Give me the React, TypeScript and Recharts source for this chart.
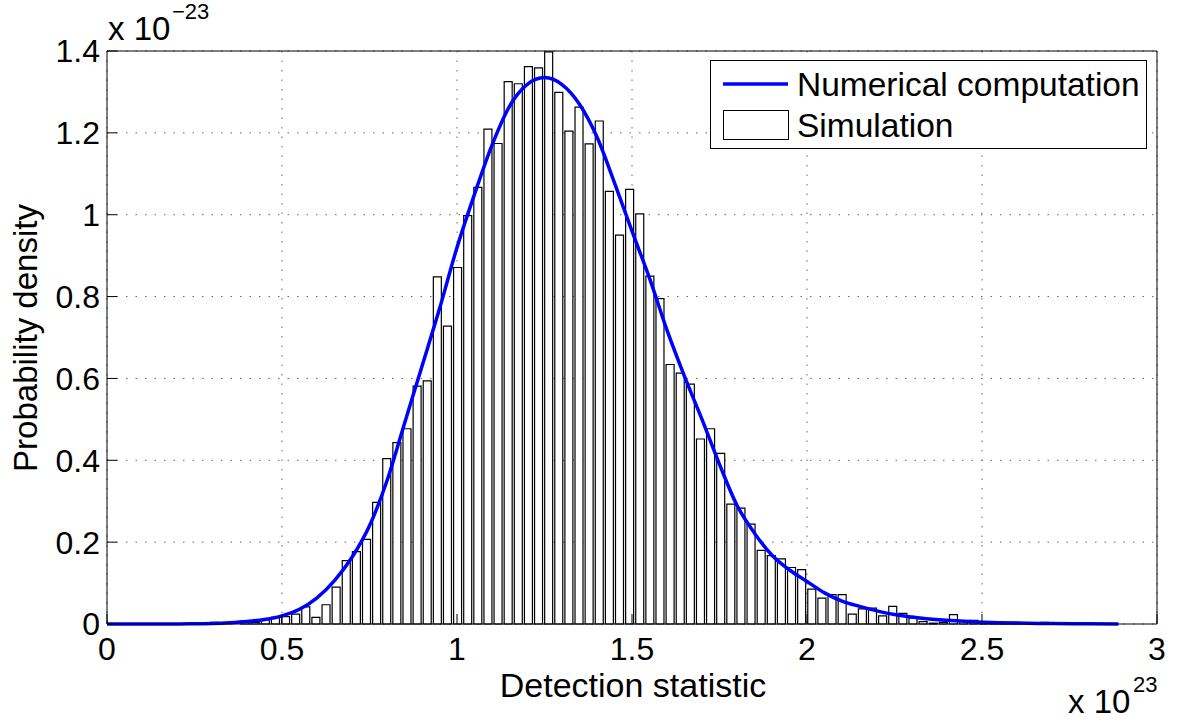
import { Bar, CartesianGrid, ComposedChart, Line, XAxis, YAxis } from "recharts";

// histogram: 100 equal bins, values in units of 1e-23
const HIST_MIN = 0.0043;
const BIN_WIDTH = 0.028914;

const simDensity = [
  0, 0, 0, 0, 0, 0, 0, 0, 0, 0,
  0.004, 0, 0, 0.008, 0.004, 0.01, 0.016, 0.018, 0.024, 0.042,
  0.016, 0.047, 0.09, 0.155, 0.177, 0.207, 0.297, 0.404, 0.443, 0.477,
  0.581, 0.594, 0.848, 0.728, 0.871, 0.998, 1.067, 1.209, 1.174, 1.325,
  1.32, 1.362, 1.359, 1.398, 1.299, 1.204, 1.263, 1.173, 1.229, 1.057,
  0.95, 1.062, 1.002, 0.85, 0.795, 0.634, 0.613, 0.586, 0.452, 0.477,
  0.417, 0.293, 0.283, 0.244, 0.18, 0.167, 0.159, 0.138, 0.133, 0.085,
  0.063, 0.072, 0.072, 0.024, 0.037, 0.039, 0.02, 0.043, 0.026, 0.015,
  0.006, 0.002, 0.004, 0.023, 0.007, 0.009, 0.002, 0.002, 0.002, 0.004,
  0, 0, 0.004, 0, 0, 0, 0, 0, 0, 0,
];

const curveX = [
  0, 0.05, 0.1, 0.15, 0.2, 0.25, 0.3, 0.35, 0.4, 0.45, 0.5, 0.55, 0.6, 0.65, 0.7,
  0.75, 0.8, 0.85, 0.9, 0.95, 1, 1.05, 1.1, 1.15, 1.2, 1.25, 1.3, 1.35, 1.4, 1.45,
  1.5, 1.55, 1.6, 1.65, 1.7, 1.75, 1.8, 1.85, 1.9, 1.95, 2, 2.05, 2.1, 2.15, 2.2,
  2.25, 2.3, 2.35, 2.4, 2.45, 2.5, 2.55, 2.6, 2.7, 2.8, 2.89,
];
const curveDensity = [
  0, 0, 0, 0, 0, 0.0005, 0.0012, 0.003, 0.006, 0.011, 0.02, 0.036, 0.064, 0.106, 0.163,
  0.24, 0.35, 0.49, 0.63, 0.77, 0.92, 1.05, 1.17, 1.265, 1.318, 1.335, 1.318, 1.27, 1.19, 1.078,
  0.96, 0.845, 0.718, 0.605, 0.5, 0.39, 0.29, 0.222, 0.168, 0.132, 0.104, 0.076, 0.056, 0.043, 0.032,
  0.023, 0.017, 0.012, 0.009, 0.0065, 0.0045, 0.003, 0.0022, 0.0012, 0.0006, 0.0003,
];

const xTicks = [0, 0.5, 1, 1.5, 2, 2.5, 3];
const yTicks = [0, 0.2, 0.4, 0.6, 0.8, 1, 1.2, 1.4];

const histData = simDensity.map((density, i) => ({
  x: HIST_MIN + (i + 0.5) * BIN_WIDTH,
  sim: density,
}));
const curveData = curveX.map((x, i) => ({ x, pdf: curveDensity[i] }));

const FONT = '"Liberation Sans", Arial, Helvetica, sans-serif';
const tickStyle = { fontSize: 32, fill: "#000", fontFamily: FONT };

export default function App() {
  return (
    <div style={{ position: "relative", width: 1177, height: 722, background: "#fff" }}>
      <style>{`body{margin:0;background:#fff}`}</style>
      <ComposedChart
        width={1177}
        height={722}
        data={histData}
        margin={{ top: 50, right: 19, bottom: 58, left: 47 }}
      >
        <XAxis
          xAxisId="x"
          type="number"
          dataKey="x"
          domain={[0, 3]}
          ticks={xTicks}
          tickSize={-10}
          tickMargin={23}
          height={40}
          stroke="#000"
          tick={tickStyle}
          interval={0}
        />
        <XAxis
          xAxisId="top"
          orientation="top"
          type="number"
          dataKey="x"
          domain={[0, 3]}
          ticks={xTicks}
          tickSize={-10}
          height={1}
          stroke="#000"
          tick={false}
          interval={0}
        />
        <YAxis
          yAxisId="y"
          type="number"
          domain={[0, 1.4]}
          ticks={yTicks}
          tickSize={-10}
          tickMargin={17}
          width={60}
          stroke="#000"
          tick={tickStyle}
          interval={0}
        />
        <YAxis
          yAxisId="right"
          orientation="right"
          type="number"
          domain={[0, 1.4]}
          ticks={yTicks}
          tickSize={-10}
          width={1}
          stroke="#000"
          tick={false}
          interval={0}
        />
        <Bar
          xAxisId="x"
          yAxisId="y"
          dataKey="sim"
          name="Simulation"
          fill="#fff"
          stroke="#000"
          strokeWidth={1.2}
          barSize={8}
          isAnimationActive={false}
        />
        <CartesianGrid
          xAxisId="x"
          yAxisId="y"
          stroke="#666"
          strokeDasharray="1.5 8"
          fill="none"
        />
        <Line
          xAxisId="top"
          yAxisId="right"
          data={curveData}
          dataKey="pdf"
          name="Numerical computation"
          type="monotone"
          stroke="#0000ff"
          strokeWidth={3.5}
          dot={false}
          activeDot={false}
          isAnimationActive={false}
        />
      </ComposedChart>

      <svg
        width={1177}
        height={722}
        style={{ position: "absolute", left: 0, top: 0, pointerEvents: "none" }}
        fontFamily={FONT}
      >
        <text x={108} y={40} fontSize={33}>x 10</text>
        <text x={172} y={19} fontSize={22}>−23</text>

        <text x={633} y={697} fontSize={34} textAnchor="middle">Detection statistic</text>
        <text x={1068} y={713} fontSize={33}>x 10</text>
        <text x={1133} y={692} fontSize={22}>23</text>

        <text x={37} y={338} fontSize={33} textAnchor="middle" transform="rotate(-90 37 338)">
          Probability density
        </text>

        <rect x={710.5} y={60.5} width={436} height={88} fill="#fff" stroke="#000" strokeWidth={1} />
        <line x1={723} y1={84} x2={788} y2={84} stroke="#0000ff" strokeWidth={3.5} />
        <text x={797} y={96} fontSize={33.5}>Numerical computation</text>
        <rect x={723.5} y={110.5} width={65} height={29} fill="#fff" stroke="#000" strokeWidth={1} />
        <text x={797} y={137} fontSize={33.5}>Simulation</text>
      </svg>
    </div>
  );
}
